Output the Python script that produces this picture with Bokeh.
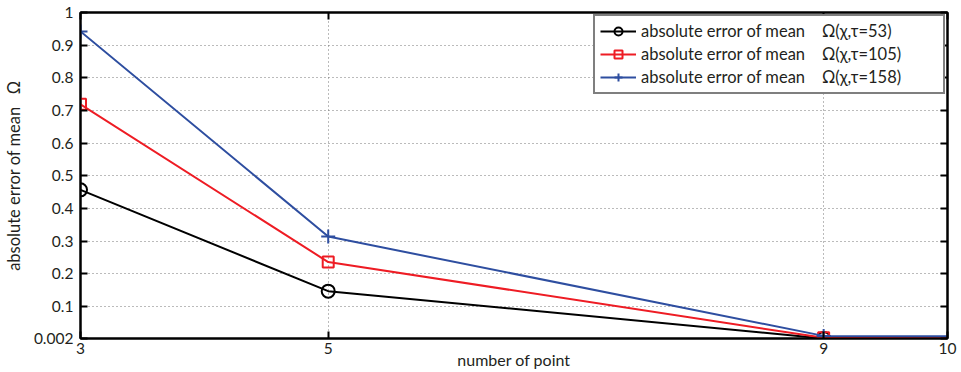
from bokeh.plotting import figure
from bokeh.models import Range1d, LinearAxis, FixedTicker, Legend, LegendItem
from bokeh.embed import file_html
from bokeh.resources import INLINE

# ---- data ----
x_points = [3, 5, 9, 10]
err_tau53 = [0.457, 0.147, 0.002, 0.002]
err_tau105 = [0.719, 0.236, 0.004, 0.003]
err_tau158 = [0.942, 0.314, 0.010, 0.009]
x_ticks = [3, 5, 9, 10]
y_ticks = [0.002, 0.1, 0.2, 0.3, 0.4, 0.5, 0.6, 0.7, 0.8, 0.9, 1]
y_tick_labels = ["0.002", "0.1", "0.2", "0.3", "0.4", "0.5", "0.6", "0.7", "0.8", "0.9", "1"]
labels = ["absolute error of mean\u00a0\u00a0\u00a0\u00a0\u03a9(\u03c7,\u03c4=53)",
          "absolute error of mean\u00a0\u00a0\u00a0\u00a0\u03a9(\u03c7,\u03c4=105)",
          "absolute error of mean\u00a0\u00a0\u00a0\u00a0\u03a9(\u03c7,\u03c4=158)"]
x_title = "number of point"
y_title = "absolute error of mean\u00a0\u00a0\u00a0\u03a9"

FONT = "Lato"
TXT = "#231f20"

p = figure(width=961, height=372, output_backend="svg", toolbar_location=None,
           x_range=Range1d(3, 10), y_range=Range1d(0.002, 1),
           min_border_left=80, min_border_right=14, min_border_top=12, min_border_bottom=34)
p.background_fill_color = "white"
p.border_fill_color = "white"
p.outline_line_color = "black"
p.outline_line_width = 2

# axes styling
for ax in [p.xaxis[0], p.yaxis[0]]:
    ax.axis_line_color = "black"
    ax.axis_line_width = 2
    ax.major_tick_in = 7
    ax.major_tick_out = 0
    ax.major_tick_line_color = "black"
    ax.major_tick_line_width = 2
    ax.minor_tick_line_color = None
    ax.major_label_text_font = FONT
    ax.major_label_text_font_size = "15.5px"
    ax.major_label_text_color = TXT
    ax.axis_label_text_font = FONT
    ax.axis_label_text_font_style = "normal"
    ax.axis_label_text_color = TXT

p.xaxis[0].ticker = FixedTicker(ticks=x_ticks)
p.yaxis[0].ticker = FixedTicker(ticks=y_ticks)
p.yaxis[0].major_label_overrides = {t: l for t, l in zip(y_ticks, y_tick_labels)}
p.xaxis[0].major_label_standoff = 4
p.xaxis[0].axis_label = x_title
p.xaxis[0].axis_label_text_font_size = "16px"
p.xaxis[0].axis_label_standoff = -7
p.yaxis[0].major_label_standoff = 7
p.yaxis[0].axis_label = y_title
p.yaxis[0].axis_label_text_font_size = "16.5px"
p.yaxis[0].axis_label_standoff = 7

# right / top axes (inward ticks only, no labels)
ra = LinearAxis(ticker=FixedTicker(ticks=y_ticks), major_tick_in=7, major_tick_out=0,
                major_tick_line_width=2, minor_tick_line_color=None,
                major_label_overrides={t: "" for t in y_ticks},
                major_label_text_color=None, major_label_standoff=0,
                axis_line_color="black", axis_line_width=2)
p.add_layout(ra, "right")
ta = LinearAxis(ticker=FixedTicker(ticks=x_ticks), major_tick_in=7, major_tick_out=0,
                major_tick_line_width=2, minor_tick_line_color=None,
                major_label_overrides={t: "" for t in x_ticks},
                major_label_text_color=None, major_label_standoff=0,
                axis_line_color="black", axis_line_width=2)
p.add_layout(ta, "above")

# grids
p.xgrid.ticker = FixedTicker(ticks=[5, 9])
p.ygrid.ticker = FixedTicker(ticks=y_ticks[1:-1])
for g in [p.xgrid[0], p.ygrid[0]]:
    g.grid_line_color = "#777777"
    g.grid_line_dash = "1 3"
    g.grid_line_width = 1

colors = ["black", "#ee1c24", "#2e4ea0"]
series = [err_tau53, err_tau105, err_tau158]
items = []
for i, (ys, c, lab) in enumerate(zip(series, colors, labels)):
    r_line = p.line(x_points, ys, line_color=c, line_width=2)
    if i == 0:
        r_m = p.scatter(x_points[:3], ys[:3], marker="circle", size=13, fill_color=None,
                        line_color=c, line_width=2)
    elif i == 1:
        r_m = p.scatter(x_points[:3], ys[:3], marker="square", size=11, fill_color=None,
                        line_color=c, line_width=2)
    else:
        r_m = p.scatter(x_points[:3], ys[:3], marker="cross", size=14, fill_color=None,
                        line_color=c, line_width=2)
    items.append(LegendItem(label=lab, renderers=[r_line, r_m]))

legend = Legend(items=items, location="top_right")
legend.label_text_font = FONT
legend.label_text_font_size = "16.5px"
legend.label_text_color = TXT
legend.border_line_color = "black"
legend.border_line_width = 2.5
legend.background_fill_alpha = 1
legend.glyph_width = 36
legend.glyph_height = 20
legend.label_height = 20
legend.label_width = 297
legend.spacing = 3
legend.padding = 5
legend.margin = 2
legend.label_standoff = 5
p.add_layout(legend)

open("out.html", "w").write(file_html(p, INLINE))
